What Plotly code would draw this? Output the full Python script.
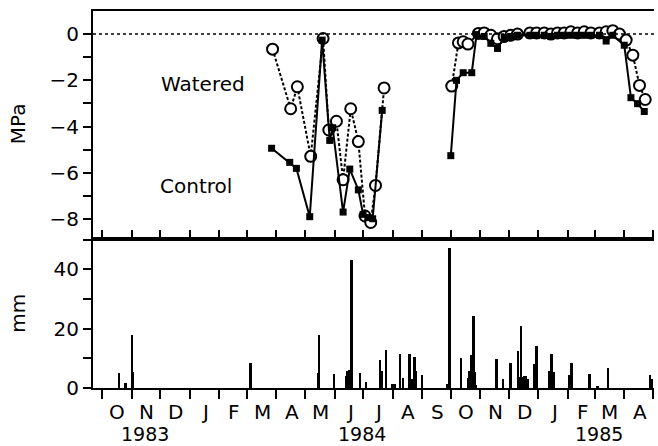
import plotly.graph_objects as go
from plotly.subplots import make_subplots

# ---------------- data ----------------
watered_dates = [
    "1984-03-28", "1984-04-16", "1984-04-23", "1984-05-07", "1984-05-20", "1984-05-26",
    "1984-06-03", "1984-06-10", "1984-06-18", "1984-06-26", "1984-07-03", "1984-07-09",
    "1984-07-14", "1984-07-23",
    None,
    "1984-10-02", "1984-10-09", "1984-10-14", "1984-10-19", "1984-10-30",
    "1984-11-05", "1984-11-12", "1984-11-19", "1984-11-26", "1984-12-03", "1984-12-10",
    "1984-12-23", "1984-12-30", "1985-01-07", "1985-01-14", "1985-01-21", "1985-01-28",
    "1985-02-04", "1985-02-11", "1985-02-18", "1985-02-25", "1985-03-06", "1985-03-13",
    "1985-03-20", "1985-03-27", "1985-04-03", "1985-04-10", "1985-04-17", "1985-04-23",
]
watered_mpa = [
    -0.65, -3.23, -2.28, -5.29, -0.19, -4.15,
    -3.77, -6.30, -3.23, -4.65, -7.87, -8.15,
    -6.55, -2.33,
    None,
    -2.25, -0.38, -0.33, -0.43, 0.03,
    0.05, -0.05, -0.20, -0.10, -0.05, 0.00,
    0.05, 0.05, 0.05, 0.00, 0.05, 0.05,
    0.10, 0.05, 0.10, 0.05, 0.05, 0.10,
    0.15, 0.00, -0.26, -0.91, -2.22, -2.83,
]

control_dates = [
    "1984-03-27", "1984-04-15", "1984-04-22", "1984-05-06", "1984-05-19", "1984-05-27",
    "1984-05-30", "1984-06-10", "1984-06-17", "1984-06-26", "1984-07-01", "1984-07-06",
    "1984-07-11", "1984-07-21",
    None,
    "1984-10-01", "1984-10-07", "1984-10-14", "1984-10-23", "1984-10-28",
    "1984-11-05", "1984-11-12", "1984-11-19", "1984-11-26", "1984-12-03", "1984-12-10",
    "1984-12-23", "1984-12-30", "1985-01-07", "1985-01-14", "1985-01-21", "1985-01-28",
    "1985-02-04", "1985-02-11", "1985-02-18", "1985-02-25", "1985-03-06", "1985-03-13",
    "1985-03-20", "1985-04-01", "1985-04-08", "1985-04-15", "1985-04-22",
]
control_mpa = [
    -4.94, -5.55, -5.81, -7.90, -0.26, -4.60,
    -4.05, -7.70, -5.84, -6.74, -7.80, -7.94,
    -7.99, -3.30,
    None,
    -5.26, -2.00, -1.67, -1.67, -0.02,
    -0.10, -0.40, -0.62, -0.15, -0.10, -0.05,
    -0.05, -0.05, -0.05, -0.10, -0.05, -0.05,
    -0.05, -0.05, -0.05, -0.05, -0.05, -0.30,
    -0.05, -0.48, -2.75, -3.01, -3.35,
]

rain_dates = [
    "1983-10-19", "1983-10-26", "1983-11-02", "1983-11-03", "1984-03-05", "1984-05-15",
    "1984-05-16", "1984-06-01", "1984-06-13", "1984-06-15", "1984-06-17", "1984-06-19",
    "1984-06-28", "1984-07-04", "1984-07-19", "1984-07-21", "1984-07-25", "1984-08-01",
    "1984-08-03", "1984-08-09", "1984-08-12", "1984-08-19", "1984-08-21", "1984-08-24",
    "1984-08-26", "1984-09-01", "1984-09-27", "1984-09-30", "1984-10-12", "1984-10-20",
    "1984-10-21", "1984-10-23", "1984-10-25", "1984-10-26", "1984-10-28", "1984-11-18",
    "1984-11-25", "1984-12-03", "1984-12-11", "1984-12-13", "1984-12-14", "1984-12-15",
    "1984-12-17", "1984-12-19", "1984-12-21", "1984-12-28", "1984-12-30", "1985-01-13",
    "1985-01-15", "1985-01-17", "1985-02-02", "1985-02-05", "1985-02-24", "1985-03-04",
    "1985-03-15", "1985-04-28", "1985-04-30",
]
rain_mm = [
    4.9, 1.8, 17.8, 5.5, 8.3, 5.0,
    18.0, 4.7, 4.1, 5.8, 6.0, 43.0,
    4.9, 1.9, 9.4, 5.8, 12.9, 1.3,
    1.3, 11.4, 3.4, 11.4, 3.0, 10.3,
    5.8, 4.4, 1.3, 47.1, 10.0, 3.5,
    5.8, 11.1, 24.1, 5.3, 1.0, 9.7,
    3.0, 8.3, 12.3, 3.6, 21.0, 3.6,
    4.1, 4.1, 3.0, 8.1, 14.0, 5.8,
    11.4, 5.3, 4.4, 8.3, 4.7, 0.8,
    6.6, 4.5, 3.0,
]

month_starts = [
    "1983-10-01", "1983-11-01", "1983-12-01", "1984-01-01", "1984-02-01", "1984-03-01",
    "1984-04-01", "1984-05-01", "1984-06-01", "1984-07-01", "1984-08-01", "1984-09-01",
    "1984-10-01", "1984-11-01", "1984-12-01", "1985-01-01", "1985-02-01", "1985-03-01",
    "1985-04-01", "1985-05-01",
]
month_letters = ["O", "N", "D", "J", "F", "M", "A", "M", "J", "J", "A", "S",
                 "O", "N", "D", "J", "F", "M", "A"]
year_labels = ["1983", "1984", "1985"]
year_positions = ["1983-11-15", "1984-06-30", "1985-03-05"]

mpa_ticks = [0, -2, -4, -6, -8]
mpa_minor = [-1, -3, -5, -7]
mm_ticks = [0, 20, 40]

# ---------------- figure ----------------
FONT = "DejaVu Sans"
FS = 20
fig = make_subplots(rows=2, cols=1, shared_xaxes=True, vertical_spacing=0,
                    row_heights=[0.605, 0.395])

fig.add_trace(go.Scatter(
    x=watered_dates, y=watered_mpa, mode="lines+markers", connectgaps=False,
    line=dict(color="black", width=2, dash="3px,2px"),
    marker=dict(symbol="circle", size=11, color="white",
                line=dict(color="black", width=2)),
    showlegend=False), row=1, col=1)

fig.add_trace(go.Scatter(
    x=control_dates, y=control_mpa, mode="lines+markers", connectgaps=False,
    line=dict(color="black", width=2),
    marker=dict(symbol="square", size=7, color="black"),
    showlegend=False), row=1, col=1)

fig.add_trace(go.Bar(
    x=rain_dates, y=rain_mm, width=2.0 * 86400000,
    marker=dict(color="black", line=dict(width=0)),
    showlegend=False), row=2, col=1)

xr = ["1983-09-21 14:00", "1985-05-02 05:00"]

fig.update_xaxes(range=xr, type="date", showgrid=False, zeroline=False,
                 showline=True, linecolor="black", linewidth=2, mirror=True,
                 tickmode="array", tickvals=month_starts, ticklen=9, tickwidth=2,
                 tickcolor="black", showticklabels=False)
fig.update_xaxes(ticks="inside", row=1, col=1)
fig.update_xaxes(ticks="outside", row=2, col=1)

fig.update_yaxes(row=1, col=1, range=[-8.87, 1.0], showgrid=False, zeroline=False,
                 showline=True, linecolor="black", linewidth=2,
                 tickmode="array", tickvals=mpa_ticks,
                 ticktext=["0" if v == 0 else "\u2212" + str(-v) for v in mpa_ticks],
                 ticks="outside", ticklen=8, tickwidth=2, tickcolor="black",
                 minor=dict(tickvals=mpa_minor, ticks="outside", ticklen=8,
                            tickwidth=2, tickcolor="black"),
                 tickfont=dict(family=FONT, size=FS, color="black"))
fig.update_yaxes(row=2, col=1, range=[0, 50.2], showgrid=False, zeroline=False,
                 showline=True, linecolor="black", linewidth=2,
                 tickmode="array", tickvals=mm_ticks,
                 ticks="outside", ticklen=8, tickwidth=2, tickcolor="black",
                 minor=dict(tickvals=[10, 30, 50], ticks="outside", ticklen=8,
                            tickwidth=2, tickcolor="black"),
                 tickfont=dict(family=FONT, size=FS, color="black"))

# zero reference line
fig.add_shape(type="line", xref="x domain", yref="y", x0=0, x1=1, y0=0, y1=0,
              line=dict(color="black", width=1.5, dash="dot"))

ann = []
for m, lab in zip(month_starts[:-1], month_letters):
    d = m[:8] + "17"
    ann.append(dict(x=d, y=0, xref="x2", yref="y2", text=lab, showarrow=False,
                    yanchor="middle", xanchor="center", yshift=-24,
                    font=dict(family=FONT, size=FS, color="black")))
for d, lab in zip(year_positions, year_labels):
    ann.append(dict(x=d, y=0, xref="x2", yref="y2", text=lab, showarrow=False,
                    yanchor="middle", xanchor="center", yshift=-46,
                    font=dict(family=FONT, size=19, color="black")))
ann.append(dict(x="1984-01-15", y=-2.17, xref="x", yref="y", text="Watered",
                showarrow=False, xanchor="center",
                font=dict(family=FONT, size=20, color="black")))
ann.append(dict(x="1984-01-08", y=-6.57, xref="x", yref="y", text="Control",
                showarrow=False, xanchor="center",
                font=dict(family=FONT, size=20, color="black")))
ann.append(dict(x=0, y=-3.9, xref="paper", yref="y", xshift=-75, text="MPa",
                textangle=-90, showarrow=False, xanchor="center", yanchor="middle",
                font=dict(family=FONT, size=FS, color="black")))
ann.append(dict(x=0, y=25, xref="paper", yref="y2", xshift=-75, text="mm",
                textangle=-90, showarrow=False, xanchor="center", yanchor="middle",
                font=dict(family=FONT, size=FS, color="black")))

fig.update_layout(width=658, height=446, margin=dict(l=93, r=4, t=11, b=58),
                  paper_bgcolor="white", plot_bgcolor="white",
                  annotations=ann, bargap=0, showlegend=False,
                  font=dict(family=FONT, size=FS, color="black"))

fig.write_html("out.html", config={"displayModeBar": False},
               post_script="document.body.style.margin='0';"
                           "document.body.style.overflow='hidden';")
